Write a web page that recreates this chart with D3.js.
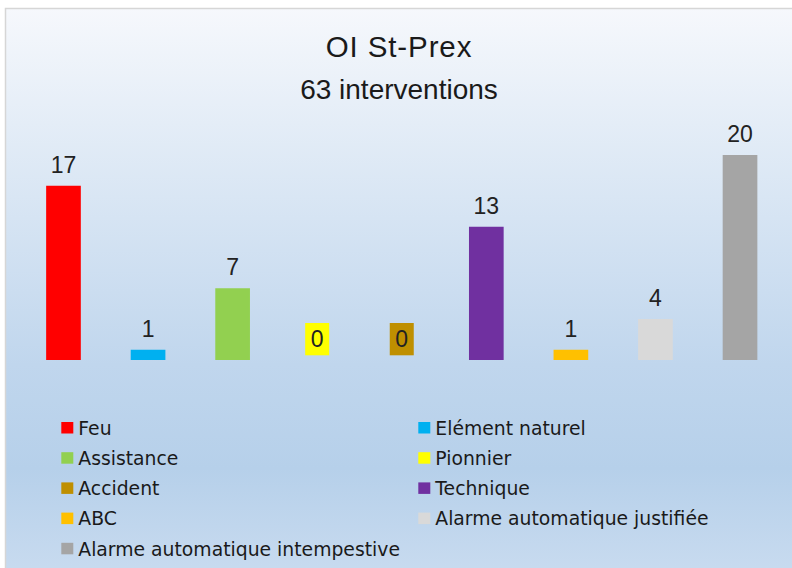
<!DOCTYPE html>
<html>
<head>
<meta charset="utf-8">
<script src="https://cdn.jsdelivr.net/npm/d3@7"></script>
<style>
  body { margin: 0; background: #fff; }
  svg { display: block; font-family: "Liberation Sans", Arial, sans-serif; }
</style>
</head>
<body>
<svg id="chart" width="792" height="568"></svg>
<script>
// data
var categories = ["Feu", "Elément naturel", "Assistance", "Pionnier", "Accident",
  "Technique", "ABC", "Alarme automatique justifiée", "Alarme automatique intempestive"];
var values = [17, 1, 7, 0, 0, 13, 1, 4, 20];
var colors = ["#ff0000", "#00b0f0", "#92d050", "#ffff00", "#bf8f00",
  "#7030a0", "#ffc000", "#d9d9d9", "#a5a5a5"];
var title = "OI St-Prex";
var subtitle = "63 interventions";

var svg = d3.select("#chart");

// background gradient
var grad = svg.append("defs").append("linearGradient")
  .attr("id", "bg").attr("x1", 0).attr("y1", 0).attr("x2", 0).attr("y2", 1);
grad.append("stop").attr("offset", "0%").attr("stop-color", "#f6f8fc");
grad.append("stop").attr("offset", "20%").attr("stop-color", "#e4edf7");
grad.append("stop").attr("offset", "62%").attr("stop-color", "#c0d6ed");
grad.append("stop").attr("offset", "80%").attr("stop-color", "#b6d0ea");
grad.append("stop").attr("offset", "100%").attr("stop-color", "#cadcf0");

svg.append("rect")
  .attr("x", 5.5).attr("y", 8.5)
  .attr("width", 800).attr("height", 575)
  .attr("fill", "url(#bg)")
  .attr("stroke", "#d6d6d6")
  .attr("stroke-width", 1.5);

// titles
svg.append("text")
  .attr("x", 399).attr("y", 57)
  .attr("text-anchor", "middle")
  .attr("font-size", 29.5)
  .attr("letter-spacing", 0.9)
  .attr("fill", "#1a1a1a")
  .text(title);

svg.append("text")
  .attr("x", 399).attr("y", 99)
  .attr("text-anchor", "middle")
  .attr("font-size", 28)
  .attr("fill", "#1a1a1a")
  .text(subtitle);

// scales
var x = d3.scaleBand()
  .domain(categories)
  .range([21.2, 782.3])
  .paddingInner(0.59)
  .paddingOuter(0.295);

var y = d3.scaleLinear()
  .domain([0, 20])
  .range([360, 155]);

var data = categories.map(function (c, i) {
  return { name: c, value: values[i], color: colors[i] };
});

// bars
svg.selectAll("rect.bar")
  .data(data)
  .enter().append("rect")
  .attr("class", "bar")
  .attr("x", function (d) { return x(d.name) })
  .attr("width", x.bandwidth())
  .attr("y", function (d) { return y(d.value) })
  .attr("height", function (d) { return y(0) - y(d.value) })
  .attr("fill", function (d) { return d.color });

// zero value labels get a coloured box
var labels = svg.selectAll("g.label")
  .data(data)
  .enter().append("g")
  .attr("class", "label")
  .attr("transform", function (d) {
    return "translate(" + (x(d.name) + x.bandwidth() / 2) + "," + (y(d.value) - 13) + ")";
  });

labels.filter(function (d) { return d.value === 0 })
  .append("rect")
  .attr("x", -12).attr("y", -24)
  .attr("width", 24).attr("height", 32.3)
  .attr("fill", function (d) { return d.color });

labels.append("text")
  .attr("text-anchor", "middle")
  .attr("font-size", 23)
  .attr("fill", "#222")
  .text(function (d) { return d.value });

// legend, two columns
var legend = svg.selectAll("g.legend")
  .data(data)
  .enter().append("g")
  .attr("class", "legend")
  .attr("transform", function (d, i) {
    var col = i % 2, row = Math.floor(i / 2);
    return "translate(" + (col ? 418.3 : 61.3) + "," + (428 + row * 30.2) + ")";
  });

legend.append("rect")
  .attr("x", 0).attr("y", -6)
  .attr("width", 12).attr("height", 11.5)
  .attr("fill", function (d) { return d.color });

legend.append("text")
  .attr("x", 17).attr("y", 6.8)
  .attr("font-family", "'DejaVu Sans', Verdana, sans-serif")
  .attr("font-size", 18.8)
  .attr("fill", "#1a1a1a")
  .text(function (d) { return d.name });
</script>
</body>
</html>
